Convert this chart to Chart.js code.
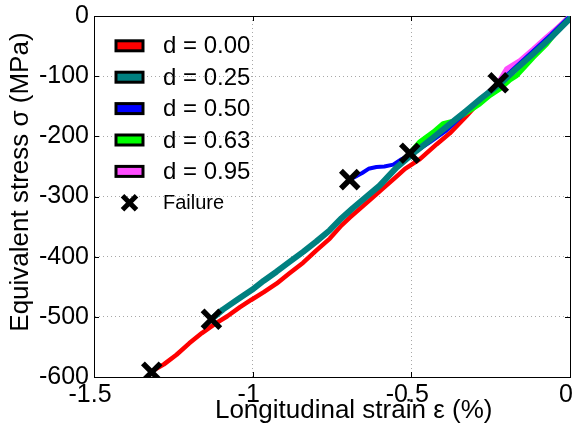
<!DOCTYPE html>
<html>
<head>
<meta charset="utf-8">
<script src="https://cdn.jsdelivr.net/npm/chart.js@4/dist/chart.umd.min.js"></script>
<style>
  html, body { margin: 0; padding: 0; background: #ffffff; }
  #wrap { width: 577px; height: 435px; }
</style>
</head>
<body>
<div id="wrap"><canvas id="c" width="577" height="435"></canvas></div>
<script>
// ---- data (strain in %, stress in MPa) ----
const seriesLabels = ['d = 0.00', 'd = 0.25', 'd = 0.50', 'd = 0.63', 'd = 0.95'];
const seriesColors = ['#ff0000', '#008080', '#0000ff', '#00ff00', '#ff4dff'];

const strainD000 = [0, -0.06, -0.12, -0.18, -0.24, -0.29, -0.326, -0.379, -0.42, -0.473, -0.52, -0.547, -0.59, -0.631, -0.694, -0.72, -0.757, -0.80, -0.841, -0.885, -0.925, -0.965, -1.005, -1.04, -1.08, -1.12, -1.16, -1.20, -1.24, -1.28, -1.31];
const stressD000 = [0, -30, -60, -90, -119, -145, -166, -195, -213, -238, -254, -267, -287, -306, -335, -348, -370, -390, -410, -428, -445, -459, -472, -484, -499, -512, -527, -544, -563, -579, -588];

const strainD025 = [0, -0.06, -0.116, -0.17, -0.221, -0.28, -0.326, -0.38, -0.431, -0.484, -0.547, -0.60, -0.684, -0.72, -0.757, -0.80, -0.841, -0.885, -0.925, -0.965, -1.002, -1.05, -1.094, -1.128];
const stressD025 = [-4, -36, -63, -88, -113, -137, -157, -180, -202, -224, -252, -282, -319, -336, -356, -375, -392, -409, -425, -440, -455, -472, -488, -503];

const strainD050 = [0, -0.06, -0.12, -0.23, -0.34, -0.389, -0.442, -0.494, -0.531, -0.557, -0.585, -0.61, -0.635, -0.655, -0.694];
const stressD050 = [0, -31, -60, -113, -166, -190, -210, -228, -238, -247, -250, -251, -254, -261, -272];

const strainD063 = [0, -0.01, -0.032, -0.074, -0.116, -0.168, -0.189, -0.221, -0.252, -0.284, -0.315, -0.342, -0.368, -0.40, -0.431, -0.473, -0.505];
const stressD063 = [0, -5, -19, -47, -69, -99, -106, -121, -132, -146, -157, -166, -175, -179, -193, -209, -228];

const strainD095 = [0, -0.01, -0.032, -0.074, -0.116, -0.158, -0.200, -0.21, -0.226];
const stressD095 = [0, -5, -16, -35, -55, -74, -88, -97, -111];

const failureStrain = [-1.318, -1.130, -0.694, -0.505, -0.226];
const failureStress = [-592, -504, -272, -228, -111];
const failureLabel = 'Failure';

const xTickValues = [-1.5, -1, -0.5, 0];
const yTickValues = [-600, -500, -400, -300, -200, -100, 0];
const xTitle = 'Longitudinal strain ε (%)';
const yTitle = 'Equivalent stress σ (MPa)';

// ---- build library structures ----
const pts = (xs, ys) => xs.map((x, i) => ({x: x, y: ys[i]}));
const FONT = 'Liberation Sans, Arial, Helvetica, sans-serif';

function lineSet(idx, xs, ys, width, order) {
  return {
    label: seriesLabels[idx],
    data: pts(xs, ys),
    showLine: true,
    borderColor: seriesColors[idx],
    backgroundColor: seriesColors[idx],
    borderWidth: width,
    pointRadius: 0,
    tension: 0,
    borderJoinStyle: 'round',
    borderCapStyle: 'round',
    order: order
  };
}

const datasets = [
  {
    label: failureLabel,
    data: pts(failureStrain, failureStress),
    pointStyle: 'crossRot',
    pointRadius: 12.5,
    borderWidth: 5.5,
    borderColor: '#000000',
    backgroundColor: '#000000',
    showLine: false,
    order: 0
  },
  lineSet(1, strainD025, stressD025, 6, 1),
  lineSet(2, strainD050, stressD050, 4, 2),
  lineSet(4, strainD095, stressD095, 5, 3),
  lineSet(3, strainD063, stressD063, 5, 4),
  lineSet(0, strainD000, stressD000, 4.5, 5)
];

// inward tick marks on all four sides (positions from the scales)
const innerTicks = {
  id: 'innerTicks',
  beforeDatasetsDraw(chart) {
    const {ctx, chartArea: a, scales} = chart;
    ctx.save();
    ctx.strokeStyle = '#000';
    ctx.lineWidth = 1;
    const L = 5;
    ctx.beginPath();
    xTickValues.forEach(v => {
      const px = Math.round(scales.x.getPixelForValue(v)) + 0.5;
      ctx.moveTo(px, a.bottom); ctx.lineTo(px, a.bottom - L);
      ctx.moveTo(px, a.top); ctx.lineTo(px, a.top + L);
    });
    yTickValues.forEach(v => {
      const py = Math.round(scales.y.getPixelForValue(v)) + 0.5;
      ctx.moveTo(a.left, py); ctx.lineTo(a.left + L, py);
      ctx.moveTo(a.right, py); ctx.lineTo(a.right - L, py);
    });
    ctx.stroke();
    ctx.restore();
  }
};

// legend drawn inside the plot area, upper left
const insideLegend = {
  id: 'insideLegend',
  afterDraw(chart) {
    const {ctx} = chart;
    const x0 = 114.5, y0 = 45.8, step = 31.4;
    ctx.save();
    ctx.textBaseline = 'middle';
    ctx.textAlign = 'left';
    seriesLabels.forEach((lab, i) => {
      const cy = y0 + i * step;
      ctx.fillStyle = seriesColors[i];
      ctx.fillRect(x0 + 1.5, cy - 5, 27, 10);
      ctx.lineWidth = 3;
      ctx.strokeStyle = '#000';
      ctx.strokeRect(x0 + 1.5, cy - 5, 27, 10);
      ctx.fillStyle = '#000';
      ctx.font = '24px ' + FONT;
      ctx.fillText(lab, 163, cy + 1);
    });
    const fy = y0 + 5 * step;
    const fx = 129.5, r = 7;
    ctx.strokeStyle = '#000';
    ctx.lineWidth = 5;
    ctx.beginPath();
    ctx.moveTo(fx - r, fy - r); ctx.lineTo(fx + r, fy + r);
    ctx.moveTo(fx + r, fy - r); ctx.lineTo(fx - r, fy + r);
    ctx.stroke();
    ctx.fillStyle = '#000';
    ctx.font = '20px ' + FONT;
    ctx.fillText(failureLabel, 163, fy + 1);
    ctx.restore();
  }
};

const gridColor = '#a8a8a8';
const noPad = s => { s.paddingLeft = 0; s.paddingRight = 0; s.paddingTop = 0; s.paddingBottom = 0; };

new Chart(document.getElementById('c'), {
  type: 'scatter',
  data: {datasets: datasets},
  options: {
    responsive: false,
    devicePixelRatio: 1,
    animation: false,
    events: [],
    layout: {autoPadding: false, padding: {left: 0, right: 7, top: 16, bottom: 0}},
    plugins: {
      legend: {display: false},
      tooltip: {enabled: false},
      title: {display: false}
    },
    scales: {
      x: {
        type: 'linear',
        position: 'bottom',
        min: -1.5,
        max: 0,
        afterBuildTicks: s => { s.ticks = xTickValues.map(v => ({value: v})); },
        afterFit: s => { s.height = 58; noPad(s); },
        ticks: {
          color: '#000',
          font: {family: FONT, size: 25},
          padding: 3,
          labelOffset: -4,
          maxRotation: 0,
          callback: v => String(v)
        },
        grid: {color: gridColor, lineWidth: 1, drawTicks: false},
        border: {display: true, color: '#000', width: 1, dash: [1, 3]},
        title: {
          display: true,
          text: '      ' + xTitle,
          color: '#000',
          font: {family: FONT, size: 26},
          padding: {top: 0, bottom: 9}
        }
      },
      y: {
        type: 'linear',
        position: 'left',
        min: -600,
        max: 0,
        afterBuildTicks: s => { s.ticks = yTickValues.map(v => ({value: v})); },
        afterFit: s => { s.width = 94; noPad(s); },
        ticks: {
          color: '#000',
          font: {family: FONT, size: 25},
          padding: 5,
          callback: v => String(v)
        },
        grid: {color: gridColor, lineWidth: 1, drawTicks: false},
        border: {display: true, color: '#000', width: 1, dash: [1, 3]},
        title: {
          display: true,
          text: '    ' + yTitle,
          color: '#000',
          font: {family: FONT, size: 26},
          padding: {top: 5, bottom: 0}
        }
      },
      xTop: {
        type: 'linear',
        position: 'top',
        min: -1.5,
        max: 0,
        afterFit: s => { s.height = 0; noPad(s); },
        ticks: {display: false},
        grid: {display: false, drawTicks: false},
        border: {display: true, color: '#000', width: 1}
      },
      yRight: {
        type: 'linear',
        position: 'right',
        min: -600,
        max: 0,
        afterFit: s => { s.width = 0; noPad(s); },
        ticks: {display: false},
        grid: {display: false, drawTicks: false},
        border: {display: true, color: '#000', width: 1}
      }
    }
  },
  plugins: [innerTicks, insideLegend]
});
</script>
</body>
</html>
